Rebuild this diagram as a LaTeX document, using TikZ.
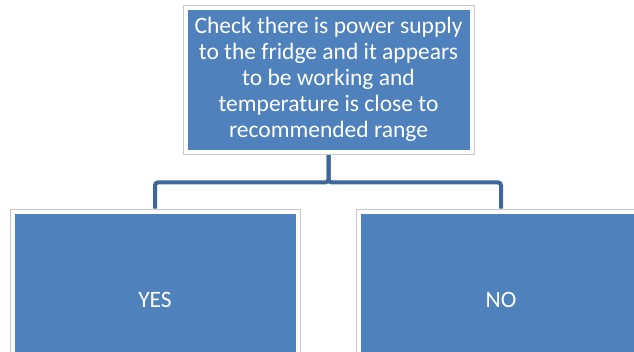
\documentclass[tikz,border=0pt]{standalone}
\usepackage{fontspec}
\setmainfont{Carlito}
\usetikzlibrary{backgrounds}
\definecolor{boxblue}{HTML}{4F81BD}
\definecolor{linkblue}{HTML}{3D6799}
\definecolor{rimgray}{HTML}{C8C8C8}
\tikzset{
  card/.style={rectangle, fill=white, draw=rimgray, line width=0.8pt, inner sep=0pt,
    text=white, align=center,
    path picture={\fill[boxblue] ([shift={(4.5pt,-4.5pt)}]path picture bounding box.north west)
       rectangle ([shift={(-4.5pt,4.5pt)}]path picture bounding box.south east);}},
  link/.style={draw=linkblue, line width=4pt, rounded corners=3pt}
}
\begin{document}
\begin{tikzpicture}[x=1pt,y=-1pt]
\useasboundingbox (0,0) rectangle (634,351);
\node[card, minimum width=291pt, minimum height=149pt,
  font=\fontsize{23.5}{26}\selectfont] (top) at (328.5,79.5)
  {Check there is power supply\\to the fridge and it appears\\to be working and\\temperature is close to\\recommended range};
\node[card, minimum width=290pt, minimum height=182pt,
  font=\fontsize{23.5}{26}\selectfont] (yes) at (155,300) {YES};
\node[card, minimum width=290pt, minimum height=182pt,
  font=\fontsize{23.5}{26}\selectfont] (no) at (501,300) {NO};
\begin{scope}[on background layer]
\draw[link] (top.south) -- ++(0,28) -| (yes.north);
\draw[link] (top.south) -- ++(0,28) -| (no.north);
\end{scope}
\end{tikzpicture}
\end{document}
